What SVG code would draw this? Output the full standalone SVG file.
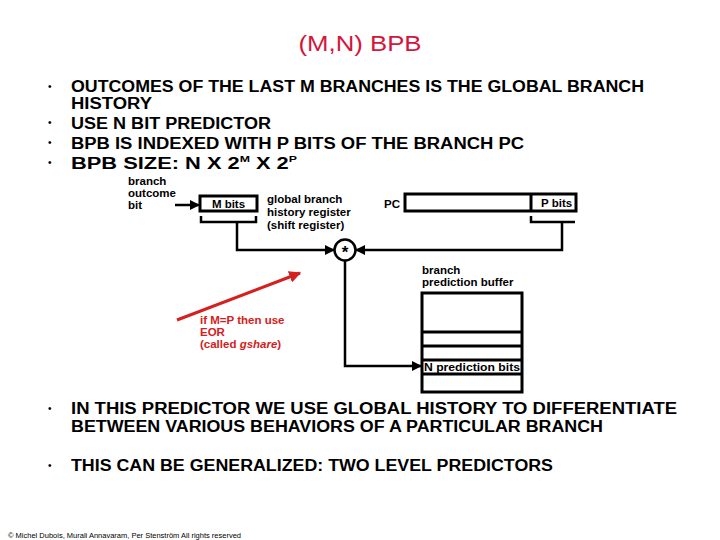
<svg xmlns="http://www.w3.org/2000/svg" width="720" height="540" viewBox="0 0 720 540">
<style>
.main{font-family:"Liberation Sans",Arial,sans-serif;font-weight:bold;font-size:16px;fill:#000}
.bul{font-family:"Liberation Sans",Arial,sans-serif;font-size:10px;fill:#000}
.lab{font-family:"Liberation Sans",Arial,sans-serif;font-weight:bold;font-size:11.5px;fill:#000}
.red{font-family:"Liberation Sans",Arial,sans-serif;font-weight:bold;font-size:11.5px;fill:#d42020}
.box{fill:#fff;stroke:#000;stroke-width:3}
.wire{fill:none;stroke:#000;stroke-width:2.5}
</style>
<defs>
<marker id="ah" viewBox="0 0 10 10" refX="9" refY="5" markerWidth="4" markerHeight="4" orient="auto" markerUnits="strokeWidth"><path d="M0,0 L10,5 L0,10 z" fill="#000"/></marker>
<marker id="ahr" viewBox="0 0 10 10" refX="9" refY="5" markerWidth="4" markerHeight="4" orient="auto" markerUnits="strokeWidth"><path d="M0,0 L10,5 L0,10 z" fill="#d42020"/></marker>
</defs>
<rect width="720" height="540" fill="#fff"/>
<g id="title"><text x="360" y="51" text-anchor="middle" font-family="Liberation Sans,Arial,sans-serif" font-size="22" fill="#d4163c" textLength="123" lengthAdjust="spacingAndGlyphs">(M,N) BPB</text></g>
<g id="bullets-top">
<text class="bul" x="48" y="90">•</text>
<text class="bul" x="48" y="126">•</text>
<text class="bul" x="48" y="146">•</text>
<text class="bul" x="48" y="166">•</text>
<text class="main" x="71" y="92" textLength="573" lengthAdjust="spacingAndGlyphs">OUTCOMES OF THE LAST M BRANCHES IS THE GLOBAL BRANCH</text>
<text class="main" x="71" y="109" textLength="81" lengthAdjust="spacingAndGlyphs">HISTORY</text>
<text class="main" x="71" y="129" textLength="200" lengthAdjust="spacingAndGlyphs">USE N BIT PREDICTOR</text>
<text class="main" x="71" y="149" textLength="453" lengthAdjust="spacingAndGlyphs">BPB IS INDEXED WITH P BITS OF THE BRANCH PC</text>
<text class="main" x="71" y="169" textLength="226" lengthAdjust="spacingAndGlyphs">BPB SIZE: N X 2<tspan font-size="9" dy="-7">M</tspan><tspan dy="7"> X 2</tspan><tspan font-size="9" dy="-7">P</tspan></text>
</g>
<g id="connectors">
<line class="wire" x1="175" y1="205" x2="199" y2="205" marker-end="url(#ah)"/>
<path class="wire" d="M201,216 V222 H256 V216"/>
<path class="wire" d="M237,222 V250 H334" marker-end="url(#ah)"/>
<path class="wire" d="M531,216 V222 H575"/>
<path class="wire" d="M562,222 V250 H356" marker-end="url(#ah)"/>
<path class="wire" d="M345,261 V366 H421" marker-end="url(#ah)"/>
<line x1="177" y1="320" x2="300" y2="273" stroke="#d42020" stroke-width="3" marker-end="url(#ahr)"/>
</g>
<g id="outcome-label">
<text class="lab" x="128" y="185">branch</text>
<text class="lab" x="128" y="197">outcome</text>
<text class="lab" x="128" y="209">bit</text>
</g>
<g id="ghr">
<rect class="box" x="200" y="196" width="57" height="15"/>
<text class="lab" x="228.5" y="207.5" text-anchor="middle" font-size="11">M bits</text>
<text class="lab" x="267" y="203">global branch</text>
<text class="lab" x="267" y="216">history register</text>
<text class="lab" x="267" y="229">(shift register)</text>
</g>
<g id="pc">
<text class="lab" x="384" y="208">PC</text>
<rect class="box" x="405" y="194" width="171" height="17"/>
<line x1="531" y1="194" x2="531" y2="211" stroke="#000" stroke-width="3"/>
<text class="lab" x="541" y="207">P bits</text>
</g>
<g id="xor">
<circle cx="345" cy="250" r="10.5" fill="#fff" stroke="#000" stroke-width="2.5"/>
<text x="345" y="258" text-anchor="middle" font-family="Liberation Sans,Arial,sans-serif" font-weight="bold" font-size="17">*</text>
</g>
<g id="gshare-note">
<text class="red" x="200" y="324">if M=P then use</text>
<text class="red" x="200" y="336">EOR</text>
<text class="red" x="200" y="348">(called <tspan font-style="italic">gshare</tspan>)</text>
</g>
<g id="bpb">
<text class="lab" x="422" y="274">branch</text>
<text class="lab" x="422" y="286">prediction buffer</text>
<rect class="box" x="422" y="293" width="100" height="99"/>
<line x1="422" y1="332" x2="522" y2="332" stroke="#000" stroke-width="3"/>
<line x1="422" y1="346" x2="522" y2="346" stroke="#000" stroke-width="3"/>
<line x1="422" y1="360" x2="522" y2="360" stroke="#000" stroke-width="3"/>
<line x1="422" y1="374" x2="522" y2="374" stroke="#000" stroke-width="3"/>
<text class="lab" x="424" y="371" font-size="11" textLength="96" lengthAdjust="spacingAndGlyphs">N prediction bits</text>
</g>
<g id="bullets-bottom">
<text class="bul" x="48" y="412">•</text>
<text class="bul" x="48" y="469">•</text>
<text class="main" x="71" y="414" textLength="606" lengthAdjust="spacingAndGlyphs">IN THIS PREDICTOR WE USE GLOBAL HISTORY TO DIFFERENTIATE</text>
<text class="main" x="71" y="432" textLength="532" lengthAdjust="spacingAndGlyphs">BETWEEN VARIOUS BEHAVIORS OF A PARTICULAR BRANCH</text>
<text class="main" x="71" y="471" textLength="482" lengthAdjust="spacingAndGlyphs">THIS CAN BE GENERALIZED: TWO LEVEL PREDICTORS</text>
</g>
<g id="footer"><text x="8" y="538" font-family="Liberation Sans,Arial,sans-serif" font-size="7" fill="#000" textLength="233" lengthAdjust="spacingAndGlyphs">© Michel Dubois, Murali Annavaram, Per Stenström All rights reserved</text></g>
</svg>
